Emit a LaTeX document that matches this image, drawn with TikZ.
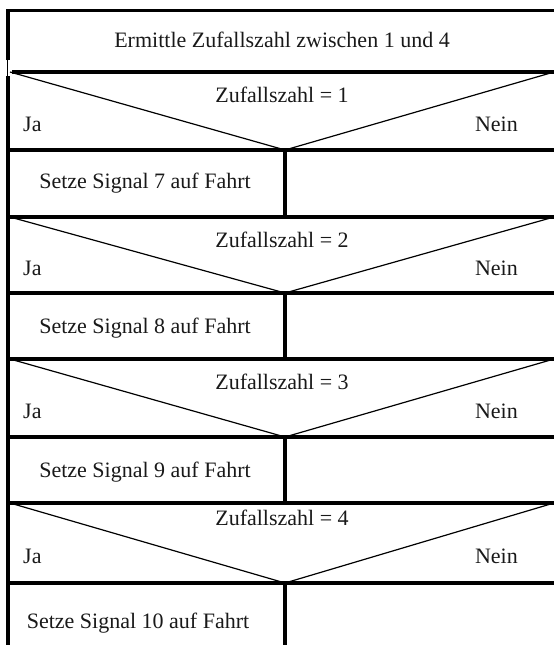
\documentclass[tikz,border=0pt]{standalone}
\usepackage{fontspec}
\setmainfont{Liberation Serif}
\begin{document}
\begin{tikzpicture}[x=1pt,y=-1pt,
  frame/.style={line width=3.6pt,black},
  diag/.style={line width=1.2pt,black},
  lbl/.style={inner sep=0pt,anchor=base,font=\fontsize{22}{24}\selectfont,text=black!90}]
\useasboundingbox (0,0) rectangle (554,645);
% outer frame
\draw[frame] (8,645) -- (8,76);
\draw[frame] (8,60) -- (8,10.5) -- (554,10.5);
\draw[line width=1pt] (7,60) -- (7,76);
% horizontal lines
\draw[frame] (12,72) -- (554,72);
\foreach \yy in {150,217,293,359,437,503,583}
  \draw[frame] (8,\yy) -- (554,\yy);
% vertical dividers
\draw[frame] (285,150) -- (285,217);
\draw[frame] (285,293) -- (285,359);
\draw[frame] (285,437) -- (285,503);
\draw[frame] (285,583) -- (285,645);
% diagonals
\foreach \a/\b in {72/150,217/293,359/437,503/583}
  \draw[diag] (10,\a) -- (285,\b) -- (554,\a);
% texts
\node[lbl] (t0) at (282,47) {Ermittle Zufallszahl zwischen 1 und 4};
\node[lbl] (q1) at (282,102) {Zufallszahl = 1};
\node[lbl,anchor=base west] (ja1) at (23,131) {Ja};
\node[lbl,anchor=base east] (nein1) at (518,131) {Nein};
\node[lbl] (s7) at (145,188) {Setze Signal 7 auf Fahrt};
\node[lbl] (q2) at (282,247) {Zufallszahl = 2};
\node[lbl,anchor=base west] (ja2) at (23,275) {Ja};
\node[lbl,anchor=base east] (nein2) at (518,275) {Nein};
\node[lbl] (s8) at (145,333) {Setze Signal 8 auf Fahrt};
\node[lbl] (q3) at (282,389) {Zufallszahl = 3};
\node[lbl,anchor=base west] (ja3) at (23,418) {Ja};
\node[lbl,anchor=base east] (nein3) at (518,418) {Nein};
\node[lbl] (s9) at (145,477) {Setze Signal 9 auf Fahrt};
\node[lbl] (q4) at (282,525) {Zufallszahl = 4};
\node[lbl,anchor=base west] (ja4) at (23,563) {Ja};
\node[lbl,anchor=base east] (nein4) at (518,563) {Nein};
\node[lbl] (s10) at (138,628) {Setze Signal 10 auf Fahrt};
\end{tikzpicture}
\end{document}
